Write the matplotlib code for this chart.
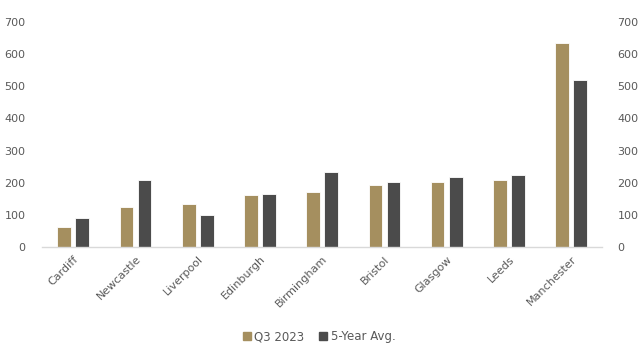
import numpy as np
import matplotlib.pyplot as plt
from matplotlib.patches import Patch

cities = ["Cardiff", "Newcastle", "Liverpool", "Edinburgh", "Birmingham",
          "Bristol", "Glasgow", "Leeds", "Manchester"]
q3_2023 = [63, 125, 134, 161, 172, 192, 203, 208, 634]
five_year_avg = [91, 208, 99, 165, 234, 203, 219, 223, 521]

gold = "#A58F5F"
dark = "#4B4B4B"
text_col = "#595959"

plt.rcParams['font.family'] = ['DejaVu Sans']

fig = plt.figure(figsize=(6.38, 3.45), dpi=100)
ax = fig.add_axes([0.066, 0.284, 0.878, 0.652])

x = np.arange(len(cities))
w = 0.22
off = 0.145
ax.bar(x - off, q3_2023, w, color=gold, edgecolor="white", linewidth=0.6)
ax.bar(x + off, five_year_avg, w, color=dark, edgecolor="white", linewidth=0.6)

ax.set_xlim(-0.5, len(cities) - 0.5)
ax.set_ylim(0, 700)
ax.set_yticks(range(0, 701, 100))
ax.tick_params(axis="y", length=0, labelsize=8, labelcolor=text_col, pad=12)
ax.tick_params(axis="x", length=0, labelsize=8, labelcolor=text_col, pad=5)
ax.set_xticks(x)
ax.set_xticklabels(cities, rotation=45, ha="right", rotation_mode="anchor")

for s in ["top", "left", "right"]:
    ax.spines[s].set_visible(False)
ax.spines["bottom"].set_color("#D9D9D9")
ax.spines["bottom"].set_linewidth(1)

ax2 = ax.twinx()
ax2.set_ylim(0, 700)
ax2.set_yticks(range(0, 701, 100))
ax2.tick_params(axis="y", length=0, labelsize=8, labelcolor=text_col, pad=11)
for s in ax2.spines.values():
    s.set_visible(False)

handles = [Patch(color=gold, label="Q3 2023"), Patch(color=dark, label="5-Year Avg.")]
fig.legend(handles=handles, loc="lower center", bbox_to_anchor=(0.5, -0.025), ncol=2,
           frameon=False, fontsize=8.5, labelcolor=text_col, handlelength=0.7,
           handleheight=0.7, handletextpad=0.3, columnspacing=1.2)

fig.savefig("out.png", dpi=100)
